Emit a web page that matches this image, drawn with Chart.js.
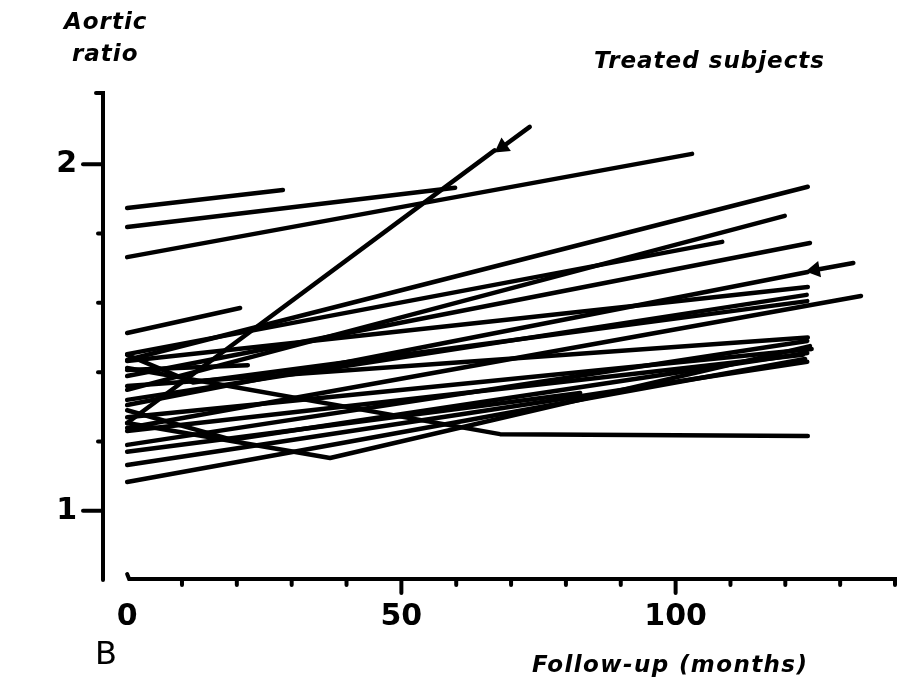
<!DOCTYPE html>
<html>
<head>
<meta charset="utf-8">
<title>Aortic ratio - treated subjects</title>
<script src="https://cdn.jsdelivr.net/npm/chart.js@4.4.1/dist/chart.umd.min.js"></script>
<style>
  body { margin: 0; background: #fff; }
  #wrap { position: relative; width: 913px; height: 694px; }
  canvas { position: absolute; left: 0; top: 0; }
  .lbl {
    position: absolute;
    font-family: "DejaVu Sans", sans-serif;
    font-style: italic;
    font-weight: bold;
    font-size: 23px;
    letter-spacing: 1px;
    line-height: 1;
    color: #000;
    white-space: nowrap;
  }
</style>
</head>
<body>
<div id="wrap">
  <canvas id="chart" width="913" height="694"></canvas>
  <div class="lbl" style="left:64px;top:10px">Aortic</div>
  <div class="lbl" style="left:72px;top:42px">ratio</div>
  <div class="lbl" style="left:594px;top:49px">Treated subjects</div>
  <div class="lbl" style="left:532px;top:653px;letter-spacing:1.4px">Follow-up (months)</div>
  <div class="lbl" style="left:95px;top:637px;font-style:normal;font-weight:normal;font-size:32px;letter-spacing:0">B</div>
</div>
<script>
// follow-up (months) for each treated subject, one polyline each
const subjectMonths = [
  [0, 28.4], [0, 59.8], [0, 103], [0, 20.6], [0, 124.1], [0, 108.5],
  [0, 119.9], [0, 124.5], [0, 124.1], [0, 124.1], [0, 123.9], [0, 133.8],
  [0, 124.1], [0, 124.8], [0, 123.2], [0, 123.6], [0, 68, 124.1], [0, 22],
  [0, 67], [0, 82.6], [0, 124], [0, 37, 124.5], [0, 124], [0, 12, 124],
  [0, 19, 124]
];
// aortic ratio at those times
const subjectRatios = [
  [1.874, 1.926], [1.819, 1.932], [1.732, 2.03], [1.513, 1.585], [1.435, 1.935], [1.452, 1.776],
  [1.349, 1.851], [1.389, 1.773], [1.305, 1.689], [1.432, 1.646], [1.32, 1.623], [1.239, 1.62],
  [1.36, 1.50], [1.27, 1.467], [1.23, 1.45], [1.083, 1.438], [1.412, 1.221, 1.216], [1.406, 1.42],
  [1.253, 2.04], [1.17, 1.34], [1.132, 1.43], [1.253, 1.152, 1.475], [1.19, 1.49], [1.45, 1.37, 1.605],
  [1.29, 1.205, 1.455]
];
// extrapolated arrows
const arrowMonths = [[68.4, 73.4], [125.4, 132.4]];
const arrowRatios = [[2.05, 2.108], [1.695, 1.715]];
const arrowAngles = [235, 260];

const xTickValues = [0, 10, 20, 30, 40, 50, 60, 70, 80, 90, 100, 110, 120, 130, 140];
const xTickLabels = [0, 50, 100];
const yTickValues = [1, 1.2, 1.4, 1.6, 1.8, 2];
const yTickLabels = [1, 2];

const datasets = subjectMonths.map((months, i) => ({
  data: months.map((m, j) => ({ x: m, y: subjectRatios[i][j] })),
  showLine: true,
  borderColor: "#000",
  borderWidth: 4.5,
  borderCapStyle: "round",
  borderJoinStyle: "round",
  pointRadius: 0,
  tension: 0
}));

arrowMonths.forEach((months, i) => {
  datasets.push({
    data: months.map((m, j) => ({ x: m, y: arrowRatios[i][j] })),
    showLine: true,
    borderColor: "#000",
    borderWidth: 4.5,
    borderCapStyle: "round",
    pointStyle: "triangle",
    pointRadius: [5, 0],
    rotation: arrowAngles[i],
    pointBackgroundColor: "#000",
    pointBorderColor: "#000",
    tension: 0
  });
});

// hand drawn look of the axes: separated, ticks outside
const handAxes = {
  id: "handAxes",
  afterDraw(chart) {
    const { ctx, scales: { x, y } } = chart;
    const left = chart.chartArea.left;
    const bottom = y.getPixelForValue(0.8);
    ctx.save();
    ctx.strokeStyle = "#000";
    ctx.lineWidth = 4;
    ctx.lineCap = "round";

    // y axis
    const top = y.getPixelForValue(2.2) - 2;
    ctx.beginPath();
    ctx.moveTo(left - 7, top);
    ctx.lineTo(left, top);
    ctx.lineTo(left, bottom);
    ctx.stroke();
    yTickValues.forEach(v => {
      const py = y.getPixelForValue(v);
      const len = yTickLabels.includes(v) ? 20 : 5;
      ctx.beginPath();
      ctx.moveTo(left - len, py);
      ctx.lineTo(left, py);
      ctx.stroke();
    });

    // x axis
    const x0 = x.getPixelForValue(0);
    const x1 = x.getPixelForValue(140);
    const ax = bottom - 1;
    ctx.beginPath();
    ctx.moveTo(x0, ax - 5);
    ctx.lineTo(x0 + 2, ax);
    ctx.lineTo(x1, ax);
    ctx.lineTo(x1, ax + 6);
    ctx.stroke();
    xTickValues.slice(1, -1).forEach(v => {
      const px = x.getPixelForValue(v);
      const len = xTickLabels.includes(v) ? 14 : 6;
      ctx.beginPath();
      ctx.moveTo(px, ax);
      ctx.lineTo(px, ax + len);
      ctx.stroke();
    });
    ctx.restore();
  }
};

Chart.defaults.font.family = "'DejaVu Sans', sans-serif";
Chart.defaults.color = "#000";

new Chart(document.getElementById("chart"), {
  type: "scatter",
  data: { datasets },
  options: {
    responsive: false,
    animation: false,
    devicePixelRatio: 1,
    layout: { padding: { top: 95, right: 18, left: 0, bottom: 0 } },
    plugins: { legend: { display: false }, tooltip: { enabled: false } },
    scales: {
      x: {
        type: "linear",
        min: -4.4,
        max: 140,
        grid: { display: false },
        border: { display: false },
        afterBuildTicks: s => { s.ticks = xTickValues.map(v => ({ value: v })); },
        afterFit: s => { s.height = 114; },
        ticks: {
          autoSkip: false,
          maxRotation: 0,
          padding: 11,
          font: { size: 30, weight: "bold" },
          callback: v => (xTickLabels.includes(v) ? String(v) : "")
        }
      },
      y: {
        type: "linear",
        min: 0.8,
        max: 2.2,
        grid: { display: false },
        border: { display: false },
        afterBuildTicks: s => { s.ticks = yTickValues.map(v => ({ value: v })); },
        afterFit: s => { s.width = 103; },
        ticks: {
          autoSkip: false,
          padding: 18,
          font: { size: 30, weight: "bold" },
          callback: v => (yTickLabels.includes(v) ? String(v) : "")
        }
      }
    }
  },
  plugins: [handAxes]
});
</script>
</body>
</html>
